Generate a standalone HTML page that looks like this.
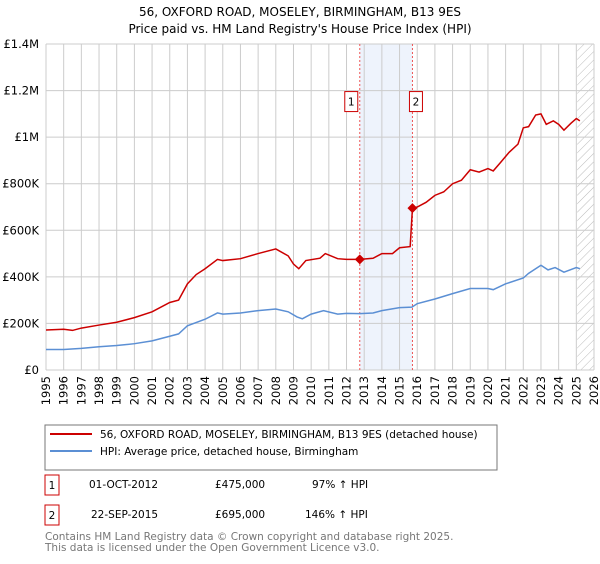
<!DOCTYPE html>
<html><head><meta charset="utf-8"><style>
body{margin:0;background:#fff;width:600px;height:560px;overflow:hidden;font-family:"DejaVu Sans","Liberation Sans",sans-serif}
svg text{font-family:"DejaVu Sans","Liberation Sans",sans-serif}
</style></head><body>
<svg id="chart" width="600" height="560" xmlns="http://www.w3.org/2000/svg">
<defs><pattern id="hatch" width="6" height="6" patternUnits="userSpaceOnUse" patternTransform="rotate(45)"><line x1="0" y1="0" x2="0" y2="6" stroke="#bbb" stroke-width="1"/></pattern></defs>
<text x="300" y="16" text-anchor="middle" font-size="12">56, OXFORD ROAD, MOSELEY, BIRMINGHAM, B13 9ES</text>
<text x="300" y="33" text-anchor="middle" font-size="12">Price paid vs. HM Land Registry's House Price Index (HPI)</text>
<g id="grid"></g><g id="marks"></g>
<rect x="45" y="425" width="452" height="45" fill="#fff" stroke="#777"/>
<line x1="50" y1="434" x2="92" y2="434" stroke="#cc0000" stroke-width="2"/>
<text x="100" y="438" font-size="10.5">56, OXFORD ROAD, MOSELEY, BIRMINGHAM, B13 9ES (detached house)</text>
<line x1="50" y1="451" x2="92" y2="451" stroke="#5b8fd4" stroke-width="2"/>
<text x="100" y="455" font-size="10.5">HPI: Average price, detached house, Birmingham</text>
<g font-size="10.5">
<rect x="45" y="475" width="14" height="20" fill="#fff" stroke="#cc0000"/>
<text x="52" y="489" text-anchor="middle">1</text>
<text x="89" y="488">01-OCT-2012</text>
<text x="215" y="488">£475,000</text>
<text x="312" y="488">97% ↑ HPI</text>
<rect x="45" y="505" width="14" height="20" fill="#fff" stroke="#cc0000"/>
<text x="52" y="519" text-anchor="middle">2</text>
<text x="91" y="518">22-SEP-2015</text>
<text x="215" y="518">£695,000</text>
<text x="305" y="518">146% ↑ HPI</text>
</g>
<text x="45" y="540" font-size="10.5" fill="#777">Contains HM Land Registry data © Crown copyright and database right 2025.</text>
<text x="45" y="551" font-size="10.5" fill="#777">This data is licensed under the Open Government Licence v3.0.</text>
</svg>
<script>
const yTicks=[0,200000,400000,600000,800000,1000000,1200000,1400000];
const yTickLabels=["£0","£200K","£400K","£600K","£800K","£1M","£1.2M","£1.4M"];
const years=[1995,1996,1997,1998,1999,2000,2001,2002,2003,2004,2005,2006,2007,2008,2009,2010,2011,2012,2013,2014,2015,2016,2017,2018,2019,2020,2021,2022,2023,2024,2025,2026];
const redT=[1995,1996,1996.5,1997,1998,1999,2000,2001,2002,2002.5,2003,2003.5,2004,2004.7,2005,2006,2007,2008,2008.7,2009,2009.3,2009.7,2010.5,2010.8,2011.5,2012,2012.75,2013.5,2014,2014.6,2015,2015.6,2015.73,2016,2016.5,2017,2017.5,2018,2018.5,2019,2019.5,2020,2020.3,2020.7,2021.2,2021.7,2022,2022.3,2022.7,2023,2023.3,2023.7,2024,2024.3,2024.7,2025,2025.2];
const redV=[172,175,170,180,193,205,225,250,290,300,370,410,435,475,470,478,500,520,490,455,435,470,480,500,478,475,475,480,500,500,525,530,695,700,720,750,765,800,815,860,850,865,855,890,935,970,1040,1045,1095,1100,1055,1070,1055,1030,1060,1080,1070];
const blueT=[1995,1996,1997,1998,1999,2000,2001,2002,2002.5,2003,2004,2004.7,2005,2006,2007,2008,2008.7,2009.2,2009.5,2010,2010.7,2011.5,2012,2012.75,2013.5,2014,2015,2015.7,2016,2017,2018,2019,2020,2020.3,2021,2022,2022.3,2023,2023.4,2023.8,2024.3,2025,2025.2];
const blueV=[88,88,93,100,105,113,125,145,155,190,218,245,240,245,255,262,250,228,220,240,255,240,243,242,245,255,268,270,285,305,328,350,350,345,370,395,415,450,430,440,420,440,435];
const saleT=[2012.75,2015.73];
const saleV=[475000,695000];
const saleLabels=["1","2"];
const X=t=>46+(t-1995)*(594-46)/31;
const Y=v=>370-v*326/1400000;
const NS="http://www.w3.org/2000/svg";
const grid=document.getElementById('grid'),marks=document.getElementById('marks');
function mk(p,tag,a){const e=document.createElementNS(NS,tag);for(const k in a)e.setAttribute(k,a[k]);p.appendChild(e);return e;}
let r=mk(grid,'rect',{x:X(2012.75),y:Y(1400000),width:X(2015.73)-X(2012.75),height:Y(0)-Y(1400000),fill:'#eef3fc'});


r=mk(grid,'rect',{x:X(2025.05),y:Y(1400000),width:X(2026)-X(2025.05),height:Y(0)-Y(1400000),fill:'url(#hatch)'});


years.forEach(y=>{
 const l=mk(grid,'line',{x1:X(y),x2:X(y),y1:Y(0),y2:Y(1400000),stroke:'#ccc'});
 
 
 const t=mk(grid,'text',{x:0,y:0,'font-size':'11.5','text-anchor':'end',transform:`translate(${X(y)+4},${376}) rotate(-90)`});
 t.textContent=y;
 
 
});
yTicks.forEach((v,i)=>{
 const l=mk(grid,'line',{x1:X(1995),x2:X(2026),y1:Y(v),y2:Y(v),stroke:'#ccc'});
 
 
 const t=mk(grid,'text',{x:39,y:Y(v)+4,'font-size':'11.5','text-anchor':'end'});
 t.textContent=yTickLabels[i];
 
 
});
saleT.forEach((t,i)=>{
 const l=mk(marks,'line',{x1:X(t),x2:X(t),y1:Y(0),y2:Y(1400000),stroke:'#ee5555','stroke-dasharray':'2,2'});
 
 
});
let p=mk(marks,'polyline',{points:blueT.map((t,i)=>X(t)+','+Y(blueV[i]*1000)).join(' '),fill:'none',stroke:'#5b8fd4','stroke-width':1.5});


p=mk(marks,'polyline',{points:redT.map((t,i)=>X(t)+','+Y(redV[i]*1000)).join(' '),fill:'none',stroke:'#cc0000','stroke-width':1.5});


saleT.forEach((t,i)=>{
 const x=X(t),y=Y(saleV[i]);
 const d=mk(marks,'polygon',{points:`${x},${y-5} ${x+5},${y} ${x},${y+5} ${x-5},${y}`,fill:'#cc0000'});
 
 
 const b=mk(marks,'rect',{x:x-19+ (i?0:0),y:Y(1200000)+1,width:13,height:20,fill:'#fff',stroke:'#cc0000'});
 b.setAttribute('x',x-(i?3:15));
 
 
 const tx=mk(marks,'text',{x:x-(i?3:15)+6.5,y:Y(1200000)+15,'font-size':'10.5','text-anchor':'middle'});
 tx.textContent=saleLabels[i];
 
 
});
</script>
</body></html>
